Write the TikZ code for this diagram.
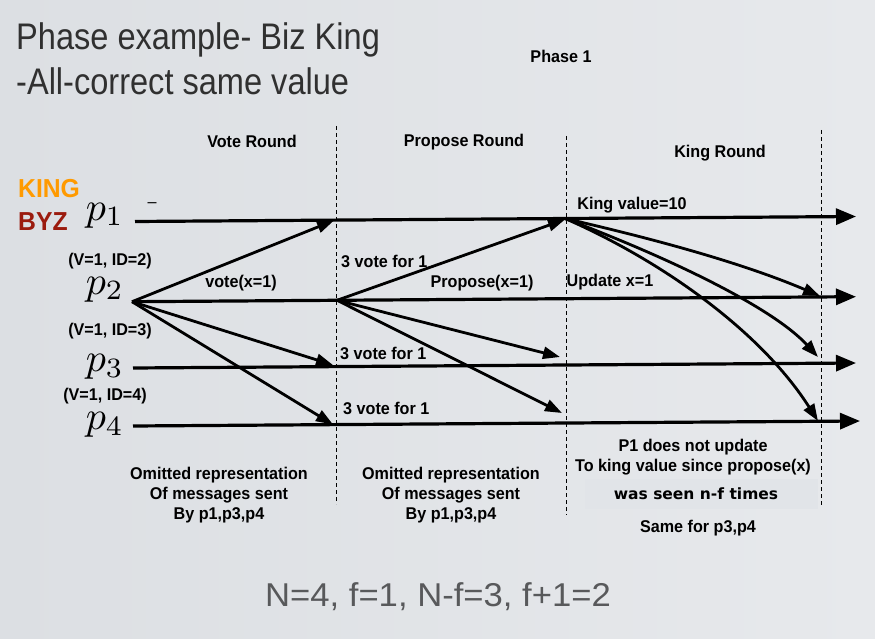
\documentclass[tikz,border=0pt]{standalone}
\usepackage{fontspec}
\usetikzlibrary{arrows.meta}
\newfontfamily\lblfont{Liberation Sans}[FakeStretch=0.95]
\newfontfamily\titlefont{Liberation Sans}[FakeStretch=0.88]
\newfontfamily\verdfont{DejaVu Sans}
\newfontfamily\formulafont{Liberation Sans}[FakeStretch=1.05]
\definecolor{bgleft}{HTML}{DCDFE3}
\definecolor{bgmid}{HTML}{EEF0F2}
\definecolor{bgright}{HTML}{E7E9EC}
\definecolor{boxgray}{HTML}{E1E4E8}
\definecolor{kingorange}{HTML}{FF9A00}
\definecolor{byzred}{HTML}{9B1B0E}
\definecolor{titlegray}{HTML}{303030}
\definecolor{formulagray}{HTML}{58595B}
\tikzset{
  lbl/.style={inner sep=0pt, align=center, font=\lblfont\bfseries\fontsize{17}{20}\selectfont},
  proc/.style={inner sep=0pt, anchor=base west, scale=4},
  timeline/.style={line width=3.2pt, -{Triangle[length=20pt,width=16pt]}},
  msg/.style={line width=2.8pt, -{Triangle[length=17pt,width=12pt]}},
  divider/.style={line width=0.8pt, dash pattern=on 4pt off 3pt},
}
\begin{document}
\begin{tikzpicture}[x=1pt,y=-1pt]
\useasboundingbox (0,0) rectangle (875,639);
\shade[left color=bgleft, middle color=bgmid, right color=bgright] (0,0) rectangle (875,639);

% titles
\node[inner sep=0pt, anchor=base west, text=titlegray,
      font=\titlefont\fontsize{37}{40}\selectfont] (title1) at (16,50) {Phase example- Biz King};
\node[inner sep=0pt, anchor=base west, text=titlegray,
      font=\titlefont\fontsize{37}{40}\selectfont] (title2) at (16,95) {-All-correct same value};

% round headers
\node[lbl] (phase) at (561,56) {Phase 1};
\node[lbl] (vote) at (252,141) {Vote Round};
\node[lbl] (prop) at (464,142) {Propose Round};
\node[lbl] (kingr) at (720,153) {King Round};

% round boundaries
\coordinate (d1t) at (336,126); \coordinate (d1b) at (336,504);
\coordinate (d2t) at (566,136); \coordinate (d2b) at (566,515);
\coordinate (d3t) at (821,130); \coordinate (d3b) at (821,507);
\draw[divider] (d1t) -- (d1b);
\draw[divider] (d2t) -- (d2b);
\draw[divider] (d3t) -- (d3b);

% process labels
\node[inner sep=0pt, anchor=west, text=kingorange,
      font=\lblfont\bfseries\fontsize{26}{28}\selectfont] (king) at (18,189) {KING};
\node[inner sep=0pt, anchor=west, text=byzred,
      font=\lblfont\bfseries\fontsize{26}{28}\selectfont] (byz) at (18,222) {BYZ};
\node[proc] (p1) at (85,220) {$p_1$};
\node[proc] (p2) at (85,294) {$p_2$};
\node[proc] (p3) at (85,371) {$p_3$};
\node[proc] (p4) at (85,429) {$p_4$};
\node[inner sep=0pt, font=\lblfont\fontsize{17}{20}\selectfont] (dash) at (152,205) {–};
\node[lbl] (id2) at (110,261) {(V=1, ID=2)};
\node[lbl] (id3) at (110,331) {(V=1, ID=3)};
\node[lbl] (id4) at (105,396) {(V=1, ID=4)};

% timelines
\coordinate (a1) at (135,221.5); \coordinate (b1) at (856,216.5);
\coordinate (a2) at (132,301.7); \coordinate (b2) at (856,296.7);
\coordinate (a3) at (133,368);   \coordinate (b3) at (856,363);
\coordinate (a4) at (133,426);   \coordinate (b4) at (860,421);
\draw[timeline] (a1) -- (b1);
\draw[timeline] (a2) -- (b2);
\draw[timeline] (a3) -- (b3);
\draw[timeline] (a4) -- (b4);

% vote round
\coordinate (v1) at (334,220.5);
\coordinate (v3) at (333,365);
\coordinate (v4) at (333,424.5);
\draw[msg] (a2) -- (v1);
\draw[msg] (a2) -- (v3);
\draw[msg] (a2) -- (v4);
\node[lbl] (votemsg) at (241,283) {vote(x=1)};

% propose round
\coordinate (q) at (337,300.3);
\coordinate (q1) at (565,219.5);
\coordinate (q3) at (560,357);
\coordinate (q4) at (562,413);
\draw[msg] (q) -- (q1);
\draw[msg] (q) -- (q3);
\draw[msg] (q) -- (q4);
\node[lbl, anchor=west] (tally1) at (341,261) {3 vote for 1};
\node[lbl, anchor=west] (tally3) at (340,353) {3 vote for 1};
\node[lbl, anchor=west] (tally4) at (343,408) {3 vote for 1};
\node[lbl] (propmsg) at (482,283) {Propose(x=1)};

% king round
\coordinate (k) at (565,218.5);
\coordinate (k2) at (820,296);
\coordinate (k3) at (818,357);
\coordinate (k4) at (818,421);
\draw[msg] (k) .. controls (650,238) and (740,262) .. (k2);
\draw[msg] (k) .. controls (680,262) and (775,310) .. (k3);
\draw[msg] (k) .. controls (660,260) and (760,330) .. (k4);
\node[lbl] (kingval) at (632,205) {King value=10};
\node[lbl] (upd) at (610,282) {Update x=1};

% notes under the rounds
\node[lbl] (note1) at (219,495) {Omitted representation\\Of messages sent\\By p1,p3,p4};
\node[lbl] (note2) at (451,495) {Omitted representation\\Of messages sent\\By p1,p3,p4};
\node[lbl] (note3) at (693,457) {P1 does not update\\To king value since propose(x)};
\node[fill=boxgray, inner sep=0pt, minimum width=233pt, minimum height=30pt] (seenbox) at (701,494) {};
\node[inner sep=0pt, font=\verdfont\bfseries\fontsize{15.5}{18}\selectfont] (seen) at (696,494) {was seen n-f times};
\node[lbl] (same) at (698,528) {Same for p3,p4};

% parameters
\node[inner sep=0pt, text=formulagray, font=\formulafont\fontsize{33}{36}\selectfont] (params) at (438,597) {N=4, f=1, N-f=3, f+1=2};
\end{tikzpicture}
\end{document}
